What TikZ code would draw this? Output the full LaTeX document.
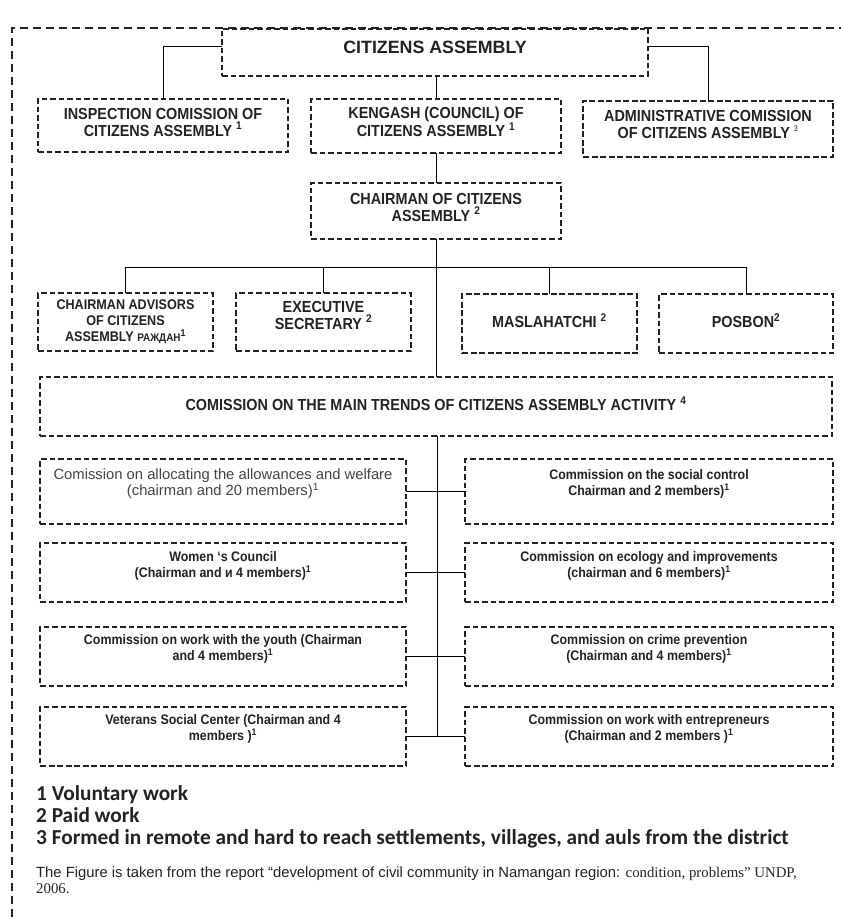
\documentclass[tikz,border=0pt]{standalone}
\usepackage{fontspec}
\setmainfont{Liberation Sans}
\newfontfamily\narf[FakeStretch=0.9]{Liberation Sans}
\newfontfamily\calf{Carlito}
\newfontfamily\tnrf{Liberation Serif}
\definecolor{ink}{HTML}{222222}
\tikzset{
  box/.style={draw=ink, line width=1.6pt, dash pattern=on 5.5pt off 3pt, inner sep=0pt, outer sep=0pt},
  heavybox/.style={box, line width=2.4pt, dash pattern=on 6pt off 2.5pt},
  toptxt/.style={align=center, inner sep=0pt, text=ink, font=\narf\bfseries\fontsize{16}{17}\selectfont},
  midtxt/.style={align=center, inner sep=0pt, text=ink, font=\narf\bfseries\fontsize{14}{16}\selectfont},
  lowtxt/.style={align=center, inner sep=0pt, text=ink, font=\narf\bfseries\fontsize{13.8}{16}\selectfont},
  lowtxtr/.style={align=center, inner sep=0pt, text=ink!85, font=\fontsize{14.8}{16}\selectfont},
  conn/.style={draw=black, line width=1pt},
  framestyle/.style={draw=ink, line width=2pt, dash pattern=on 8pt off 5pt},
  foottxt/.style={anchor=base west, inner sep=0pt, text=ink, font=\calf\bfseries\fontsize{21.3}{22}\selectfont},
  citetxt/.style={anchor=base west, inner sep=0pt, text=ink, font=\fontsize{14.8}{15}\selectfont}
}
\newcommand{\sps}[1]{\textsuperscript{#1}}
\begin{document}
\begin{tikzpicture}[x=1pt,y=-1pt]
\useasboundingbox (0,0) rectangle (840,920);
% outer frame
\coordinate (fbl) at (12,930);
\coordinate (ftl) at (12,28);
\coordinate (ftr) at (850,28);
\draw[framestyle] (fbl) -- (ftl) -- (ftr);

% top level
\node[box, minimum width=426pt, minimum height=47pt] (ca) at (435,52.5) {};
\node[align=center, inner sep=0pt, text=ink, font=\bfseries\fontsize{17.8}{20}\selectfont] (cat) at (435,47) {CITIZENS ASSEMBLY};

\node[box, minimum width=250pt, minimum height=53pt] (ins) at (163,125.5) {};
\node[toptxt] (inst) at (163,122) {INSPECTION COMISSION OF\\CITIZENS ASSEMBLY \sps{1}};

\node[box, minimum width=250pt, minimum height=54pt] (ken) at (436,126) {};
\node[toptxt] (kent) at (436,122) {KENGASH (COUNCIL) OF\\CITIZENS ASSEMBLY \sps{1}};

\node[heavybox, minimum width=250pt, minimum height=56pt] (adm) at (708,129) {};
\node[toptxt] (admt) at (708,124) {ADMINISTRATIVE COMISSION\\OF CITIZENS ASSEMBLY \sps{\mdseries\fontsize{8}{8}\selectfont 3}};

\node[box, minimum width=250pt, minimum height=56pt] (chm) at (436,211) {};
\node[toptxt] (chmt) at (436,207) {CHAIRMAN OF CITIZENS\\ASSEMBLY \sps{2}};

% second row
\node[box, minimum width=175pt, minimum height=58pt] (adv) at (125.5,322) {};
\node[midtxt] (advt) at (125.5,322) {CHAIRMAN ADVISORS\\OF CITIZENS\\ASSEMBLY {\fontsize{11}{11}\selectfont РАЖДАН}\sps{1}};

\node[box, minimum width=175pt, minimum height=58pt] (exe) at (323.5,322) {};
\node[toptxt] (exet) at (323.5,315) {EXECUTIVE\\SECRETARY \sps{2}};

\node[heavybox, minimum width=175pt, minimum height=59pt] (mas) at (549.5,323.5) {};
\node[toptxt] (mast) at (549.5,321) {MASLAHATCHI \sps{2}};

\node[box, minimum width=174pt, minimum height=59pt] (pos) at (746,323.5) {};
\node[toptxt] (post) at (746,321) {POSBON\sps{2}};

% main commission
\node[box, minimum width=792pt, minimum height=59pt] (mai) at (436,406.5) {};
\node[toptxt] (mait) at (436,404) {COMISSION ON THE MAIN TRENDS OF CITIZENS ASSEMBLY ACTIVITY \sps{4}};

% lower commissions
\node[box, minimum width=366pt, minimum height=65pt] (l1) at (223,491.5) {};
\node[lowtxtr] (l1t) at (223,484) {Comission on allocating the allowances and welfare\\(chairman and 20 members)\sps{1}};
\node[box, minimum width=368pt, minimum height=65pt] (r1) at (649,491.5) {};
\node[lowtxt] (r1t) at (649,484) {Commission on the social control\\Chairman and 2 members)\sps{1}};

\node[box, minimum width=366pt, minimum height=59pt] (l2) at (223,572.5) {};
\node[lowtxt] (l2t) at (223,566) {Women ‘s Council\\(Chairman and и 4 members)\sps{1}};
\node[box, minimum width=368pt, minimum height=59pt] (r2) at (649,572.5) {};
\node[lowtxt] (r2t) at (649,566) {Commission on ecology and improvements\\(chairman and 6 members)\sps{1}};

\node[box, minimum width=366pt, minimum height=59pt] (l3) at (223,656.5) {};
\node[lowtxt] (l3t) at (223,649) {Commission on work with the youth (Chairman\\and 4 members)\sps{1}};
\node[box, minimum width=368pt, minimum height=59pt] (r3) at (649,656.5) {};
\node[lowtxt] (r3t) at (649,649) {Commission on crime prevention\\(Chairman and 4 members)\sps{1}};

\node[box, minimum width=366pt, minimum height=59pt] (l4) at (223,736.5) {};
\node[lowtxt] (l4t) at (223,729) {Veterans Social Center (Chairman and 4\\members )\sps{1}};
\node[box, minimum width=368pt, minimum height=59pt] (r4) at (649,736.5) {};
\node[lowtxt] (r4t) at (649,729) {Commission on work with entrepreneurs\\(Chairman and 2 members )\sps{1}};
% heavier bottom edges of the last row
\draw[heavybox] (l4.south west) -- (l4.south east);
\draw[heavybox] (r4.south west) -- (r4.south east);

% connectors top
\draw[conn] (ca.west |- cat) -| (ins.north);
\draw[conn] (ca.east |- cat) -| (adm.north);
\draw[conn] (ca.south -| ken.north) -- (ken.north);
\draw[conn] (ken.south) -- (chm.north);
\coordinate (bus) at (436,267);
\draw[conn] (chm.south) -- (mai.north -| chm.south);
\draw[conn] (adv.north |- bus) -- (pos.north |- bus);
\draw[conn] (adv.north |- bus) -- (adv.north);
\draw[conn] (exe.north |- bus) -- (exe.north);
\draw[conn] (mas.north |- bus) -- (mas.north);
\draw[conn] (pos.north |- bus) -- (pos.north);

% connectors lower
\coordinate (spine) at (437,436);
\draw[conn] (spine) -- (spine |- l4.east);
\draw[conn] (l1.east) -- (r1.west);
\draw[conn] (l2.east) -- (r2.west);
\draw[conn] (l3.east) -- (r3.west);
\draw[conn] (l4.east) -- (r4.west);

% footnotes
\node[foottxt] (f1) at (36,800) {1 Voluntary work};
\node[foottxt] (f2) at (36,822) {2 Paid work};
\node[foottxt] (f3) at (36,844) {3 Formed in remote and hard to reach settlements, villages, and auls from the district};
\node[citetxt] (c1) at (36,877) {The Figure is taken from the report “development of civil community in Namangan region: {\tnrf condition, problems” UNDP,}};
\node[citetxt] (c2) at (36,893) {\tnrf 2006.};
\end{tikzpicture}
\end{document}
